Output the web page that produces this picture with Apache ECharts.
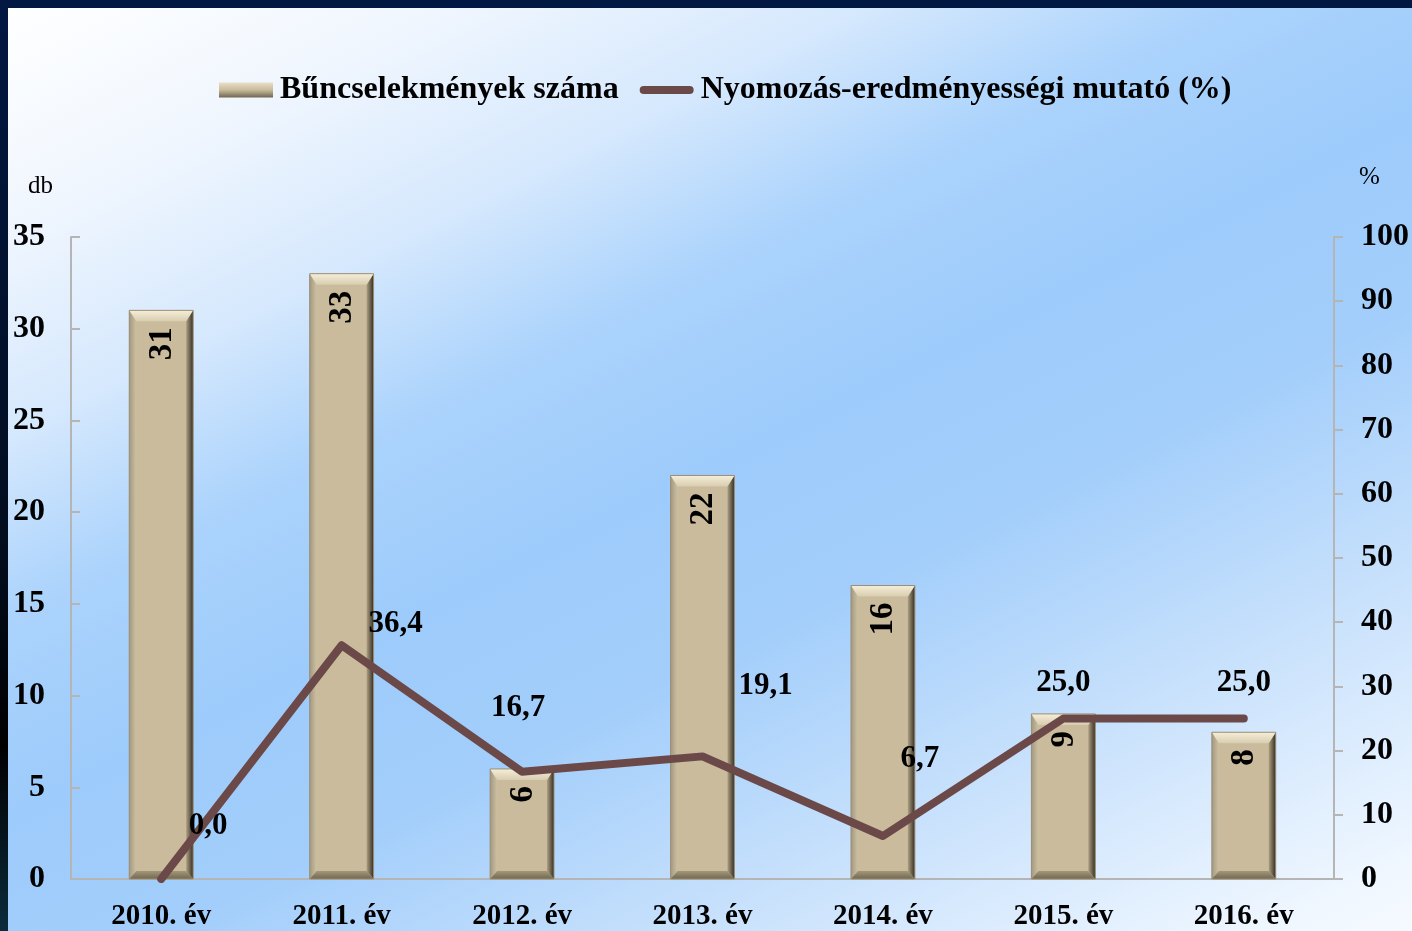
<!DOCTYPE html>
<html>
<head>
<meta charset="utf-8">
<script src="https://cdn.jsdelivr.net/npm/echarts@6/dist/echarts.min.js"></script>
<style>
  html, body { margin: 0; padding: 0; }
  #main { width: 1412px; height: 931px; }
</style>
</head>
<body>
<div id="main"></div>
<script>
// adatok
const years = ['2010. év', '2011. év', '2012. év', '2013. év', '2014. év', '2015. év', '2016. év'];
const crimes = [31, 33, 6, 22, 16, 9, 8];
const clearance = [0.0, 36.4, 16.7, 19.1, 6.7, 25.0, 25.0];
const barName = 'Bűncselekmények száma';
const lineName = 'Nyomozás-eredményességi mutató (%)';

// a vonal címkéinek eltolása a ponthoz képest
const lineLabelShift = [[47, -53], [54, -21], [-4, -64], [63, -70], [37, -77], [0, -36], [0, -36]];

const serif = 'Liberation Serif';
const fmt = v => v.toFixed(1).replace('.', ',');

let myChart = echarts.init(document.getElementById('main'));

function renderBar(params, api) {
  const x = api.value(0);
  const v = api.value(1);
  const topPt = api.coord([x, v]);
  const basePt = api.coord([x, 0]);
  const w = api.size([1, 0])[0] * 0.354;
  const x0 = topPt[0] - w / 2, x1 = topPt[0] + w / 2;
  const y0 = topPt[1], y1 = basePt[1];
  const bt = 11, bs = 7, bb = 8;
  const poly = (pts, fill) => ({ type: 'polygon', shape: { points: pts }, style: { fill: fill } });
  const grad = (a, b, horiz) => new echarts.graphic.LinearGradient(0, 0, horiz ? 1 : 0, horiz ? 0 : 1,
    [{ offset: 0, color: a }, { offset: 1, color: b }]);
  return {
    type: 'group',
    children: [
      { type: 'rect', shape: { x: x0, y: y0, width: w, height: y1 - y0 }, style: { fill: '#c9bb9c' } },
      poly([[x0, y0], [x0 + bs, y0 + bt], [x0 + bs, y1 - bb], [x0, y1]], grad('#a39880', '#cdc0a2', true)),
      poly([[x1, y0], [x1, y1], [x1 - bs, y1 - bb], [x1 - bs, y0 + bt]], grad('#ad9f82', '#352e23', true)),
      poly([[x0, y1], [x0 + bs, y1 - bb], [x1 - bs, y1 - bb], [x1, y1]], grad('#a3977b', '#72684f', false)),
      poly([[x0, y0], [x1, y0], [x1 - bs, y0 + bt], [x0 + bs, y0 + bt]], grad('#f6eed8', '#d8cdb0', false)),
      { type: 'rect', shape: { x: x0, y: y0, width: w, height: y1 - y0 }, style: { fill: 'none', stroke: '#9a8f76', lineWidth: 1 } },
      {
        type: 'text',
        x: topPt[0] + 1, y: y0 + 17,
        rotation: Math.PI / 2,
        style: {
          text: String(v), fill: '#000', font: 'bold 33px "' + serif + '"',
          align: 'right', verticalAlign: 'middle'
        }
      }
    ]
  };
}

myChart.setOption({
  backgroundColor: new echarts.graphic.LinearGradient(0, 0, 0.464, 1.407, [
    { offset: 0, color: '#ffffff' },
    { offset: 0.14, color: '#f0f6fe' },
    { offset: 0.27, color: '#d5e8fd' },
    { offset: 0.38, color: '#abd3fc' },
    { offset: 0.5, color: '#9dcbfb' },
    { offset: 0.62, color: '#a3cefb' },
    { offset: 0.78, color: '#c8e1fc' },
    { offset: 0.95, color: '#eef6ff' },
    { offset: 1, color: '#f6faff' }
  ]),
  textStyle: { fontFamily: serif },
  graphic: [
    { type: 'rect', left: 0, top: 0, shape: { width: 1412, height: 8 }, style: { fill: '#011843' } },
    {
      type: 'rect', left: 0, top: 0, shape: { width: 8, height: 931 },
      style: {
        fill: new echarts.graphic.LinearGradient(0, 0, 0, 1, [
          { offset: 0, color: '#011843' },
          { offset: 0.6, color: '#020c1c' },
          { offset: 0.8, color: '#000000' },
          { offset: 1, color: '#0b2b3c' }
        ])
      }
    },
    { type: 'text', left: 28, top: 174, style: { text: 'db', font: '25px "' + serif + '"', fill: '#000' } },
    { type: 'text', left: 1359, top: 165, style: { text: '%', font: '25px "' + serif + '"', fill: '#000' } }
  ],
  legend: {
    top: 69,
    left: 214,
    itemWidth: 54,
    itemHeight: 15,
    itemGap: 21,
    textStyle: { fontFamily: serif, fontWeight: 'bold', fontSize: 32, color: '#000', padding: [0, 0, 0, 2] },
    data: [
      { name: barName, icon: 'rect' },
      {
        name: lineName,
        icon: 'path://M0,0 M0,15 M4,3.5 L50,3.5 A4,4 0 0 1 50,11.5 L4,11.5 A4,4 0 0 1 4,3.5 Z',
        itemStyle: { color: '#6b4949' }
      }
    ]
  },
  grid: { left: 71, right: 77, top: 237, bottom: 51 },
  xAxis: {
    type: 'category',
    data: years,
    axisLine: { lineStyle: { color: '#b5b5b5', width: 2 } },
    axisTick: { show: false },
    axisLabel: { color: '#000', fontFamily: serif, fontWeight: 'bold', fontSize: 29, margin: 23 }
  },
  yAxis: [
    {
      type: 'value', min: 0, max: 35, interval: 5,
      splitLine: { show: false },
      axisLine: { show: true, lineStyle: { color: '#b5b5b5', width: 2 } },
      axisTick: { show: true, inside: true, length: 9, lineStyle: { color: '#b5b5b5', width: 2 } },
      axisLabel: { color: '#000', fontFamily: serif, fontWeight: 'bold', fontSize: 32, margin: 26 }
    },
    {
      type: 'value', min: 0, max: 100, interval: 10, position: 'right',
      splitLine: { show: false },
      axisLine: { show: true, lineStyle: { color: '#b5b5b5', width: 2 } },
      axisTick: { show: true, length: 9, lineStyle: { color: '#b5b5b5', width: 2 } },
      axisLabel: { color: '#000', fontFamily: serif, fontWeight: 'bold', fontSize: 32, margin: 27 }
    }
  ],
  series: [
    {
      name: barName,
      type: 'custom',
      renderItem: renderBar,
      itemStyle: {
        color: new echarts.graphic.LinearGradient(0, 0, 0, 1, [
          { offset: 0, color: '#e8dfc6' },
          { offset: 0.5, color: '#c9bb9c' },
          { offset: 1, color: '#6f6550' }
        ])
      },
      encode: { x: 0, y: 1 },
      data: crimes.map((v, i) => [i, v]),
      z: 2
    },
    {
      name: lineName,
      type: 'line',
      yAxisIndex: 1,
      symbol: 'circle',
      symbolSize: 0.1,
      showSymbol: true,
      color: '#6b4949',
      lineStyle: { color: '#6b4949', width: 8, cap: 'round', join: 'round' },
      data: clearance.map((v, i) => ({
        value: v,
        label: { offset: lineLabelShift[i] }
      })),
      label: {
        show: true,
        position: 'inside',
        formatter: p => fmt(p.value),
        color: '#000',
        fontFamily: serif,
        fontWeight: 'bold',
        fontSize: 31
      },
      z: 5
    }
  ]
});
</script>
</body>
</html>
